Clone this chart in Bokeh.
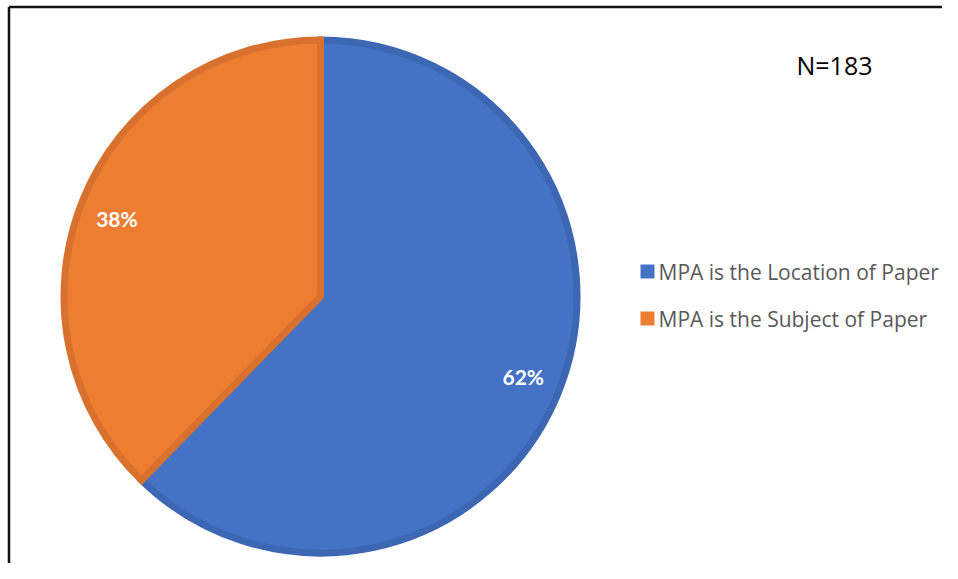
import numpy as np
from bokeh.plotting import figure
from bokeh.models import Range1d, ColumnDataSource
from bokeh.core.properties import value
from bokeh.embed import file_html
from bokeh.resources import INLINE

# ---- data ----
categories = ["MPA is the Location of Paper", "MPA is the Subject of Paper"]
counts = [114, 69]
fill_colors = ["#4472C4", "#ED7D31"]
edge_colors = ["#3D67B3", "#D8712D"]
note_text = "N=183"

W, H = 942, 563
p = figure(width=W, height=H, output_backend="svg", toolbar_location=None,
           x_range=Range1d(0, W), y_range=Range1d(0, H), min_border=0,
           border_fill_color="white", background_fill_color="white")
p.axis.visible = False
p.grid.visible = False
p.outline_line_color = None

# frame (left & top edges visible)
p.line([8.5, 8.5], [-5, H - 6.5], line_color="#111111", line_width=2.5)
p.line([8.5, W + 5], [H - 6.5, H - 6.5], line_color="#111111", line_width=2.5)

cx, cy = 320, H - 296
R = 260
lw = 7

vals = np.array(counts, dtype=float)
frac = vals / vals.sum()
cum = np.concatenate([[0], np.cumsum(frac)])
starts = np.pi / 2 - 2 * np.pi * cum[:-1]
ends = np.pi / 2 - 2 * np.pi * cum[1:]
mids = (starts + ends) / 2

src = ColumnDataSource(dict(x=[cx] * len(vals), y=[cy] * len(vals),
                            start=starts, end=ends, fill=fill_colors, edge=edge_colors))
p.wedge(x="x", y="y", radius=R - lw / 2, radius_units="screen",
        start_angle="start", end_angle="end", direction="clock",
        fill_color="fill", line_color="edge", line_width=lw, line_join="miter",
        source=src)

labels = [f"{round(f * 100)}%" for f in frac]
lr = 218
lab_ang = mids + np.array([0.01, 0.02])
p.text(x=cx + lr * np.cos(lab_ang), y=cy + lr * np.sin(lab_ang), text=labels,
       text_color="white", text_font=value("Lato"), text_font_style="bold",
       text_font_size="21px", text_align="center", text_baseline="middle")

# legend
leg_y = [H - 271, H - 318]
p.scatter(x=[647] * 2, y=leg_y, marker="square", size=14,
          fill_color=fill_colors, line_color=None)
p.text(x=[658] * 2, y=leg_y, text=categories, text_color="#595959",
       text_font=value("Open Sans"), text_font_size="21px", text_baseline="middle")

# note
p.text(x=[796], y=[H - 64], text=[note_text], text_color="black",
       text_font=value("Open Sans"), text_font_size="25px", text_baseline="middle")

open("out.html", "w").write(file_html(p, INLINE))
